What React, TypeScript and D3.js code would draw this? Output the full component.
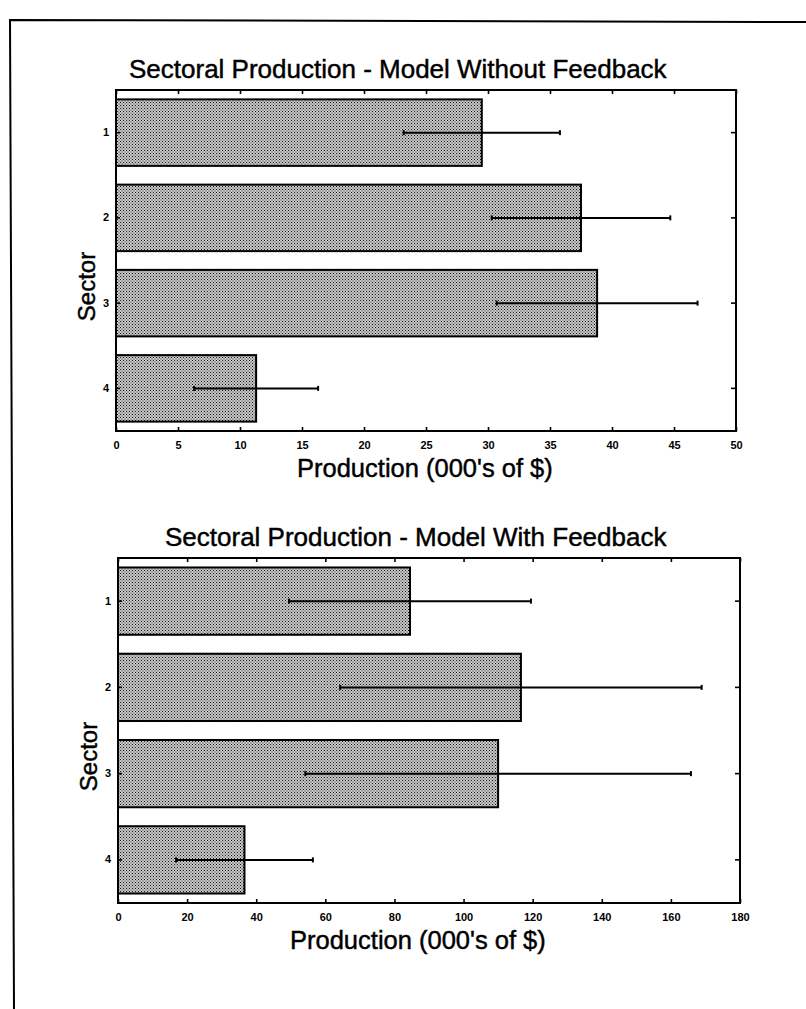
import React, { useRef, useEffect } from 'react';
import * as d3 from 'd3';

// sectors shown on the y axis
const sectors = ['1', '2', '3', '4'];

// Model without feedback (000's of $)
const noFeedbackValues = [29.5, 37.5, 38.8, 11.3];
const noFeedbackLow = [23.2, 30.3, 30.7, 6.3];
const noFeedbackHigh = [35.8, 44.7, 46.9, 16.3];
const noFeedbackTicks = [0, 5, 10, 15, 20, 25, 30, 35, 40, 45, 50];

// Model with feedback (000's of $)
const feedbackValues = [84.5, 116.6, 110.0, 36.6];
const feedbackLow = [49.5, 64.3, 54.2, 16.8];
const feedbackHigh = [119.5, 168.9, 165.8, 56.4];
const feedbackTicks = [0, 20, 40, 60, 80, 100, 120, 140, 160, 180];

const FONT = '"Liberation Sans", Arial, Helvetica, sans-serif';
const TICK_FONT = '"Liberation Sans Narrow", "Liberation Sans", Arial, sans-serif';

const App = () => {
  const svgRef = useRef<SVGSVGElement>(null);

  useEffect(() => {
    const svg = d3.select(svgRef.current);
    svg.selectAll('*').remove();

    const width = 806;
    const height = 1009;
    svg.attr('width', width).attr('height', height);

    svg.append('rect').attr('width', width).attr('height', height).attr('fill', '#fff');

    // halftone-like stipple used by the scanned bars
    const defs = svg.append('defs');
    const pat = defs.append('pattern')
      .attr('id', 'stipple')
      .attr('patternUnits', 'userSpaceOnUse')
      .attr('width', 3)
      .attr('height', 3);
    pat.append('rect').attr('width', 3).attr('height', 3).attr('fill', '#c9c9c9');
    pat.append('rect').attr('x', 0).attr('y', 0).attr('width', 1).attr('height', 1).attr('fill', '#111');
    pat.append('rect').attr('x', 1.5).attr('y', 1.5).attr('width', 1).attr('height', 1).attr('fill', '#2a2a2a');

    // page border (left + top), slightly skewed like the scan
    svg.append('path')
      .attr('d', `M14,${height} L10,20 L${width},22`)
      .attr('fill', 'none')
      .attr('stroke', '#000')
      .attr('stroke-width', 2);

    const drawPanel = (opts) => {
      const { top, bottom, left, right, max, ticks, values, low, high, title, titleX, labelX } = opts;

      const x = d3.scaleLinear().domain([0, max]).range([left, right]);
      const y = d3.scaleBand()
        .domain(sectors)
        .range([top, bottom])
        .paddingInner(0.22)
        .paddingOuter(0.11);

      const g = svg.append('g');

      // bars
      g.selectAll('.bar')
        .data(values)
        .enter().append('rect')
        .attr('x', x(0))
        .attr('y', (d, i) => y(sectors[i]))
        .attr('width', d => x(d) - x(0))
        .attr('height', y.bandwidth())
        .attr('fill', 'url(#stipple)')
        .attr('stroke', '#000')
        .attr('stroke-width', 2);

      // error bars
      const eb = g.selectAll('.err')
        .data(values)
        .enter().append('g');
      eb.append('line')
        .attr('x1', (d, i) => x(low[i]))
        .attr('x2', (d, i) => x(high[i]))
        .attr('y1', (d, i) => y(sectors[i]) + y.bandwidth() / 2)
        .attr('y2', (d, i) => y(sectors[i]) + y.bandwidth() / 2)
        .attr('stroke', '#000')
        .attr('stroke-width', 2);
      [low, high].forEach(arr => {
        eb.append('line')
          .attr('x1', (d, i) => x(arr[i]))
          .attr('x2', (d, i) => x(arr[i]))
          .attr('y1', (d, i) => y(sectors[i]) + y.bandwidth() / 2 - 2.5)
          .attr('y2', (d, i) => y(sectors[i]) + y.bandwidth() / 2 + 2.5)
          .attr('stroke', '#000')
          .attr('stroke-width', 2);
      });

      // frame
      g.append('rect')
        .attr('x', left)
        .attr('y', top)
        .attr('width', right - left)
        .attr('height', bottom - top)
        .attr('fill', 'none')
        .attr('stroke', '#000')
        .attr('stroke-width', 2);

      // inward ticks on all sides
      const bottomAxis = g.append('g')
        .attr('transform', `translate(0,${bottom})`)
        .call(d3.axisBottom(x).tickValues(ticks).tickSize(-4).tickPadding(10).tickFormat(d3.format('d')));
      g.append('g')
        .attr('transform', `translate(0,${top})`)
        .call(d3.axisTop(x).tickValues(ticks).tickSize(-4).tickFormat(() => ''));
      const leftAxis = g.append('g')
        .attr('transform', `translate(${left},0)`)
        .call(d3.axisLeft(y).tickSize(-4).tickPadding(7));
      g.append('g')
        .attr('transform', `translate(${right},0)`)
        .call(d3.axisRight(y).tickSize(-5).tickFormat(() => ''));

      g.selectAll('.domain').remove();
      g.selectAll('.tick line').attr('stroke', '#000').attr('stroke-width', 1.6);
      [bottomAxis, leftAxis].forEach(axis => {
        axis.selectAll('text')
          .style('font-family', TICK_FONT)
          .style('font-weight', 'bold')
          .style('font-size', '11px')
          .style('fill', '#000');
      });

      // title
      g.append('text')
        .attr('x', titleX)
        .attr('y', top - 12)
        .style('font-family', FONT)
        .style('font-size', '26px')
        .style('fill', '#000')
        .style('stroke', '#000')
        .style('stroke-width', 0.45)
        .text(title);

      // x label
      g.append('text')
        .attr('x', labelX)
        .attr('y', bottom + 46)
        .style('font-family', FONT)
        .style('font-size', '25.5px')
        .style('fill', '#000')
        .style('stroke', '#000')
        .style('stroke-width', 0.45)
        .text("Production (000's of $)");

      // y label
      g.append('text')
        .attr('transform', `translate(${left - 21},${(top + bottom) / 2 + 26}) rotate(-90)`)
        .attr('text-anchor', 'middle')
        .style('font-family', FONT)
        .style('font-size', '24px')
        .style('fill', '#000')
        .style('stroke', '#000')
        .style('stroke-width', 0.45)
        .text('Sector');
    };

    drawPanel({
      top: 90, bottom: 431, left: 116, right: 736, max: 50,
      ticks: noFeedbackTicks,
      values: noFeedbackValues, low: noFeedbackLow, high: noFeedbackHigh,
      title: 'Sectoral Production - Model Without Feedback',
      titleX: 129, labelX: 297
    });

    drawPanel({
      top: 558, bottom: 903, left: 118, right: 740, max: 180,
      ticks: feedbackTicks,
      values: feedbackValues, low: feedbackLow, high: feedbackHigh,
      title: 'Sectoral Production - Model With Feedback',
      titleX: 165, labelX: 290
    });
  }, []);

  return (
    <div style={{ position: 'absolute', left: 0, top: 0 }}>
      <svg ref={svgRef} style={{ display: 'block' }} />
    </div>
  );
};

export default App;
